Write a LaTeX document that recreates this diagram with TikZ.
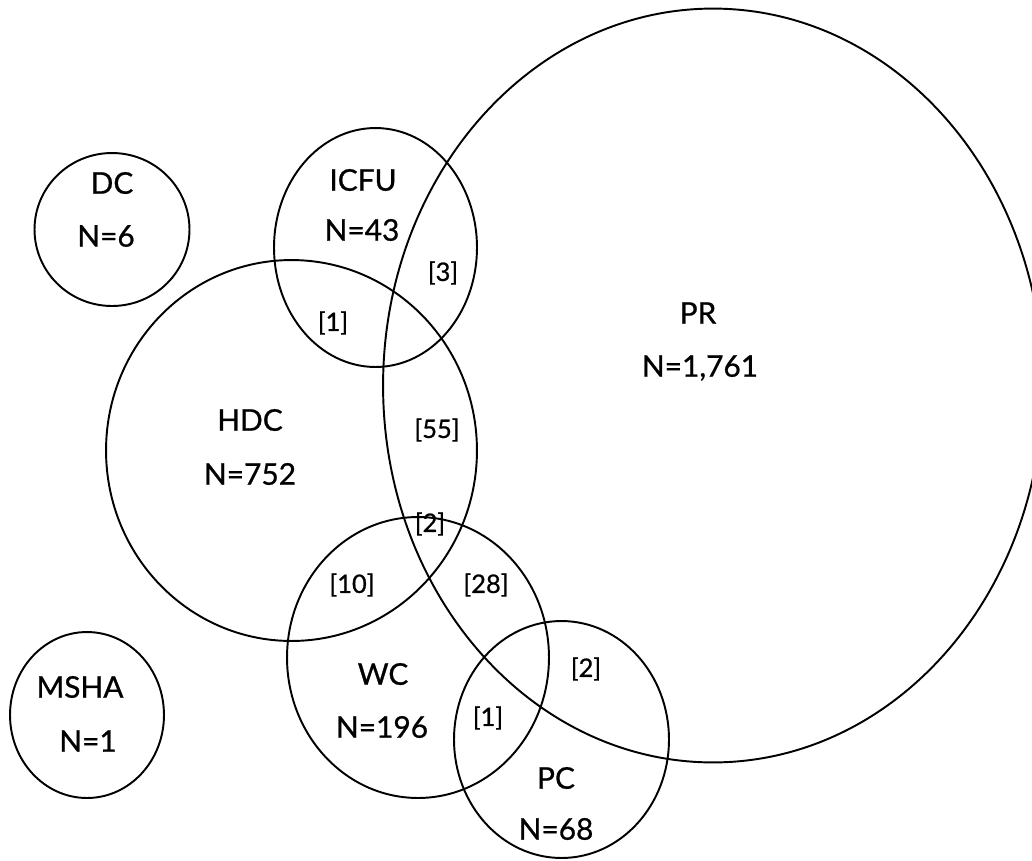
\documentclass[tikz,border=0pt]{standalone}
\usepackage{fontspec}
\setmainfont{Lato}[FakeBold=0.8]
\usetikzlibrary{shapes.geometric}
\begin{document}
\begin{tikzpicture}[x=0.02cm,y=-0.02cm,
  set/.style={draw=black,line width=1.1pt,ellipse,inner sep=0pt,outer sep=0pt},
  lbl/.style={font=\fontsize{17}{20}\selectfont,inner sep=0pt},
  cnt/.style={font=\fontsize{14.5}{17}\selectfont,inner sep=0pt}]
\useasboundingbox (0,0) rectangle (1032,860);
\clip (0,0) rectangle (1032,860);
% sets
\node[set,minimum width=13.2cm,minimum height=15.08cm] (PR) at (713,385.5) {};
\node[set,minimum width=3.1cm,minimum height=3.06cm] (DC) at (112,229.5) {};
\node[set,minimum width=3.08cm,minimum height=3.32cm] (MSHA) at (87,715) {};
\node[set,minimum width=4.06cm,minimum height=4.78cm] (ICFU) at (375.5,247.5) {};
\node[set,minimum width=7.42cm,minimum height=7.62cm] (HDC) at (291.5,450.5) {};
\node[set,minimum width=5.24cm,minimum height=5.62cm] (WC) at (418,657.5) {};
\node[set,minimum width=4.3cm,minimum height=4.74cm] (PC) at (561.5,739.5) {};
% set labels
\node[lbl] (tDC) at (112,183) {DC};
\node[lbl] (nDC) at (106,236) {N=6};
\node[lbl] (tICFU) at (363,180) {ICFU};
\node[lbl] (nICFU) at (362,230) {N=43};
\node[lbl] (tPR) at (698,313) {PR};
\node[lbl] (nPR) at (700,368) {N=1,761};
\node[lbl] (tHDC) at (250,420) {HDC};
\node[lbl] (nHDC) at (250,474) {N=752};
\node[lbl] (tMSHA) at (80,687) {MSHA};
\node[lbl] (nMSHA) at (88,741) {N=1};
\node[lbl] (tWC) at (383,674) {WC};
\node[lbl] (nWC) at (382,727) {N=196};
\node[lbl] (tPC) at (556,778) {PC};
\node[lbl] (nPC) at (556,829) {N=68};
% overlap counts
\node[cnt] (c3) at (443,273) {[3]};
\node[cnt] (c1a) at (333,323) {[1]};
\node[cnt] (c55) at (437,430) {[55]};
\node[cnt] (c2a) at (430,524) {[2]};
\node[cnt] (c10) at (352,585) {[10]};
\node[cnt] (c28) at (486,585) {[28]};
\node[cnt] (c2b) at (586,669) {[2]};
\node[cnt] (c1b) at (488,718) {[1]};
\end{tikzpicture}
\end{document}
